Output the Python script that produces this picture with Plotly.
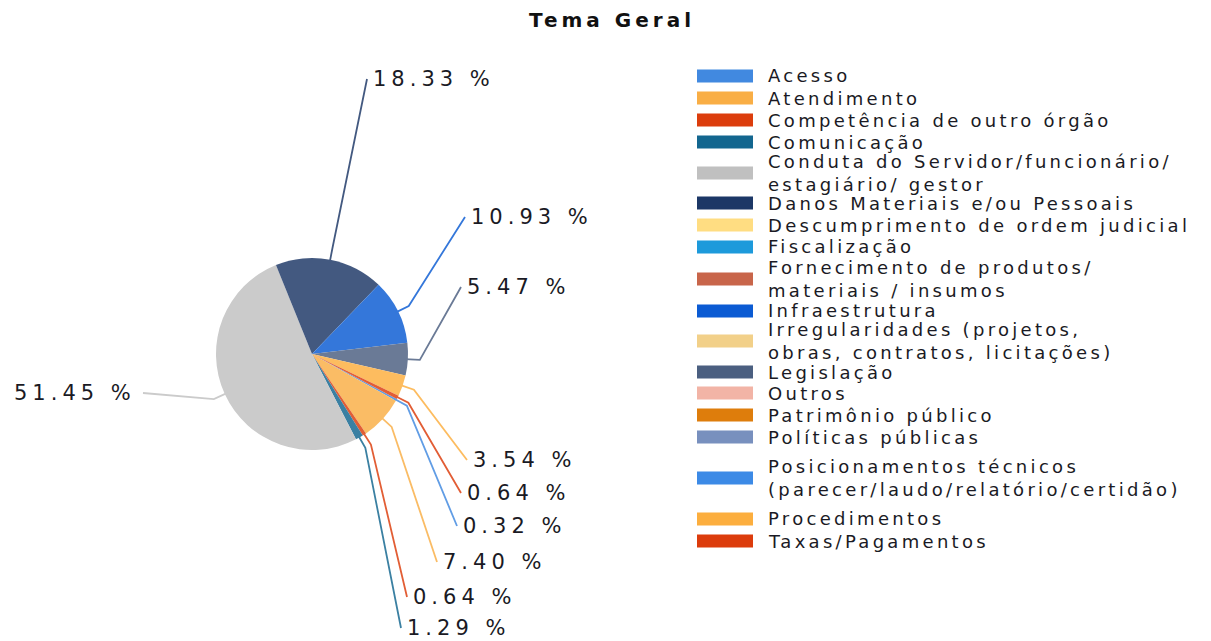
import math
import plotly.graph_objects as go

# ---------------- data ----------------
categories = [
    "Acesso",
    "Atendimento",
    "Competência de outro órgão",
    "Comunicação",
    "Conduta do Servidor/funcionário/ estagiário/ gestor",
    "Danos Materiais e/ou Pessoais",
    "Descumprimento de ordem judicial",
    "Fiscalização",
    "Fornecimento de produtos/ materiais / insumos",
    "Infraestrutura",
    "Irregularidades (projetos, obras, contratos, licitações)",
    "Legislação",
    "Outros",
    "Patrimônio público",
    "Políticas públicas",
    "Posicionamentos técnicos (parecer/laudo/relatório/certidão)",
    "Procedimentos",
    "Taxas/Pagamentos",
]
percent_values = [0.32, 7.40, 0.64, 1.29, 51.45, 18.33, 0, 0, 0,
                  10.93, 0, 5.47, 0, 0, 0, 0, 3.54, 0.64]
legend_text_lines = [
    ["Acesso"],
    ["Atendimento"],
    ["Competência de outro órgão"],
    ["Comunicação"],
    ["Conduta do Servidor/funcionário/", "estagiário/ gestor"],
    ["Danos Materiais e/ou Pessoais"],
    ["Descumprimento de ordem judicial"],
    ["Fiscalização"],
    ["Fornecimento de produtos/", "materiais / insumos"],
    ["Infraestrutura"],
    ["Irregularidades (projetos,", "obras, contratos, licitações)"],
    ["Legislação"],
    ["Outros"],
    ["Patrimônio público"],
    ["Políticas públicas"],
    ["Posicionamentos técnicos", "(parecer/laudo/relatório/certidão)"],
    ["Procedimentos"],
    ["Taxas/Pagamentos"],
]
title_text = "Tema Geral"

# ---------------- styles ----------------
legend_colors = ["#4189E0", "#F9AE45", "#DC3D0C", "#13668F", "#C0C0C0", "#1C3766",
                 "#FFDD82", "#1D9ADB", "#C8654A", "#0B5BD3", "#F2D089", "#4B5F80",
                 "#F2B4A6", "#DE7D0C", "#7890BE", "#3C8AE6", "#FCAE3E", "#DC3C0C"]


def lighten(hex_color, t=0.17):
    h = hex_color.lstrip("#")
    r, g, b = (int(h[i:i + 2], 16) for i in (0, 2, 4))
    r, g, b = (round(c + (255 - c) * t) for c in (r, g, b))
    return f"#{r:02X}{g:02X}{b:02X}"


slice_colors = [lighten(c) for c in legend_colors]

W, H = 1211, 641
OFFSET = 8  # page body margin in the browser
FONT = "DejaVu Sans"
TEXT_COLOR = "#1A1A24"

# pie geometry (screen pixels)
cx, cy, R = 312, 354, 96
rotation = 118

# label layout: end point of leader line / label anchor (screen pixels)
label_layout = {
    5: (367, 79, "left"),
    9: (465, 217, "left"),
    11: (461, 287, "left"),
    16: (467, 460, "left"),
    17: (461, 493, "left"),
    0: (457, 526, "left"),
    1: (437, 562, "left"),
    2: (407, 597, "left"),
    3: (401, 628, "left"),
    4: (143, 393, "right"),
}

# legend layout (screen pixels)
legend_swatch_x0, legend_swatch_x1, legend_text_x = 697, 753, 766
legend_y = [76, 98, 120, 142, 173, 203, 225, 247, 279, 311, 341, 372,
            393, 415, 437, 478, 519, 541]


def px(x):
    return (x - OFFSET) / W


def py(y):
    return 1 - (y - OFFSET) / H


fig = go.Figure()
fig.add_trace(go.Pie(
    labels=categories,
    values=percent_values,
    sort=False,
    direction="clockwise",
    rotation=rotation,
    marker=dict(colors=slice_colors, line=dict(width=0)),
    textinfo="none",
    hovertemplate="%{label}: %{value:.2f} %<extra></extra>",
    domain=dict(x=[px(cx - R), px(cx + R)], y=[py(cy + R), py(cy - R)]),
    showlegend=False,
))

shapes = []
annotations = []

# leader lines + value labels, computed from slice mid-angles
total = sum(percent_values)
cum = 0.0
for i, v in enumerate(percent_values):
    start = rotation + 360 * cum / total
    cum += v
    if v <= 0 or i not in label_layout:
        continue
    mid = math.radians(start + 180 * v / total)
    sx, sy = cx + 0.97 * R * math.sin(mid), cy - 0.97 * R * math.cos(mid)
    ex, ey = cx + (R + 12) * math.sin(mid), cy - (R + 12) * math.cos(mid)
    lx, ly, align = label_layout[i]
    shapes.append(dict(
        type="path", xref="paper", yref="paper",
        path=f"M {px(sx)},{py(sy)} L {px(ex)},{py(ey)} L {px(lx)},{py(ly)}",
        line=dict(color=slice_colors[i], width=1.8),
    ))
    txt = f'<span style="letter-spacing:5px">{v:.2f} %</span>'
    annotations.append(dict(
        x=px(lx + (4 if align == "left" else -5)), y=py(ly),
        xref="paper", yref="paper",
        xanchor=align, yanchor="middle", showarrow=False,
        text=txt, font=dict(family=FONT, size=21, color=TEXT_COLOR),
    ))

# legend drawn as swatches + text
for i, lines in enumerate(legend_text_lines):
    yc = legend_y[i]
    shapes.append(dict(
        type="rect", xref="paper", yref="paper",
        x0=px(legend_swatch_x0), x1=px(legend_swatch_x1),
        y0=py(yc + 6.5), y1=py(yc - 6.5),
        fillcolor=legend_colors[i], line=dict(width=0),
    ))
    body = "<br>".join(f'<span style="letter-spacing:3.3px">{ln}</span>' for ln in lines)
    annotations.append(dict(
        x=px(legend_text_x), y=py(yc),
        xref="paper", yref="paper",
        xanchor="left", yanchor="middle", align="left", showarrow=False,
        text=body,
        font=dict(family=FONT, size=18, color=TEXT_COLOR),
    ))

fig.update_layout(
    width=W, height=H,
    margin=dict(l=0, r=0, t=0, b=0),
    paper_bgcolor="white",
    plot_bgcolor="white",
    title=dict(
        text=f'<b><span style="letter-spacing:4px">{title_text}</span></b>',
        x=px(612), xanchor="center", xref="paper",
        y=py(20), yanchor="middle", yref="container",
        font=dict(family=FONT, size=20, color="#111111"),
    ),
    shapes=shapes,
    annotations=annotations,
    showlegend=False,
)

fig.write_html("out.html")
